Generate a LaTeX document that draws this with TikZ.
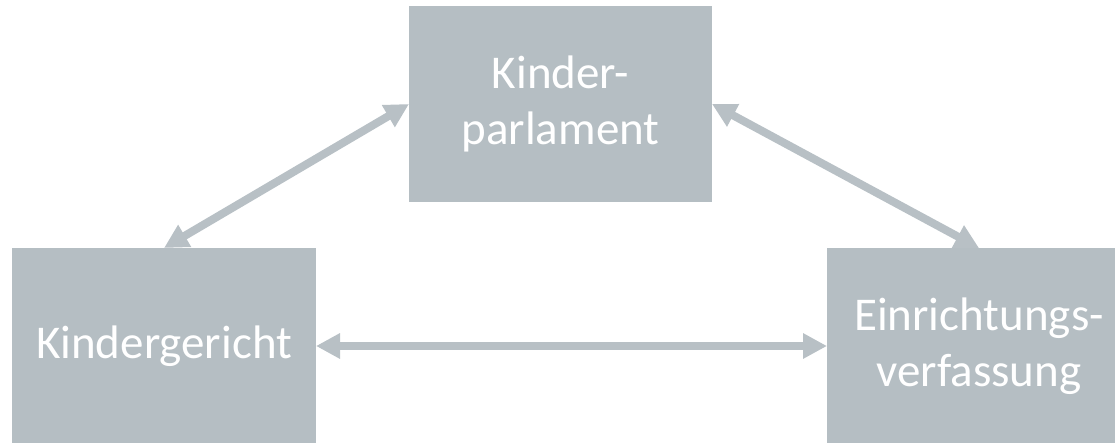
\documentclass[tikz,border=0pt]{standalone}
\usepackage{fontspec}
\setmainfont{Carlito}
\usetikzlibrary{arrows.meta,positioning}
\definecolor{Slab}{HTML}{B5BEC3}
\definecolor{Link}{HTML}{B8C0C5}
\tikzset{
  organ/.style={draw=none,fill=Slab,text=white,minimum width=304pt,minimum height=196pt,align=center,inner sep=0pt,outer sep=0pt,font=\fontsize{47}{56}\selectfont},
  flow/.style={{Triangle[length=24pt,width=24pt]}-{Triangle[length=24pt,width=24pt]},draw=Link,line width=8pt}
}
\begin{document}
\begin{tikzpicture}[x=1pt,y=-1pt]
      \clip (0,0) rectangle (1115,443);
      \fill[white] (0,0) rectangle (1115,443);
      \node[organ,minimum width=303pt] (parl) at (560.5,104) {Kinder-\\parlament};
      \node[organ] (court) at (164,346) {Kindergericht};
      \node[organ] (const) at (979,346) {Einrichtungs-\\verfassung};
      \draw[flow] (parl.west) -- (court.north);
      \draw[flow] (parl.east) -- (const.north);
      \draw[flow] (court.east) -- (const.west);
    \end{tikzpicture}
\end{document}
